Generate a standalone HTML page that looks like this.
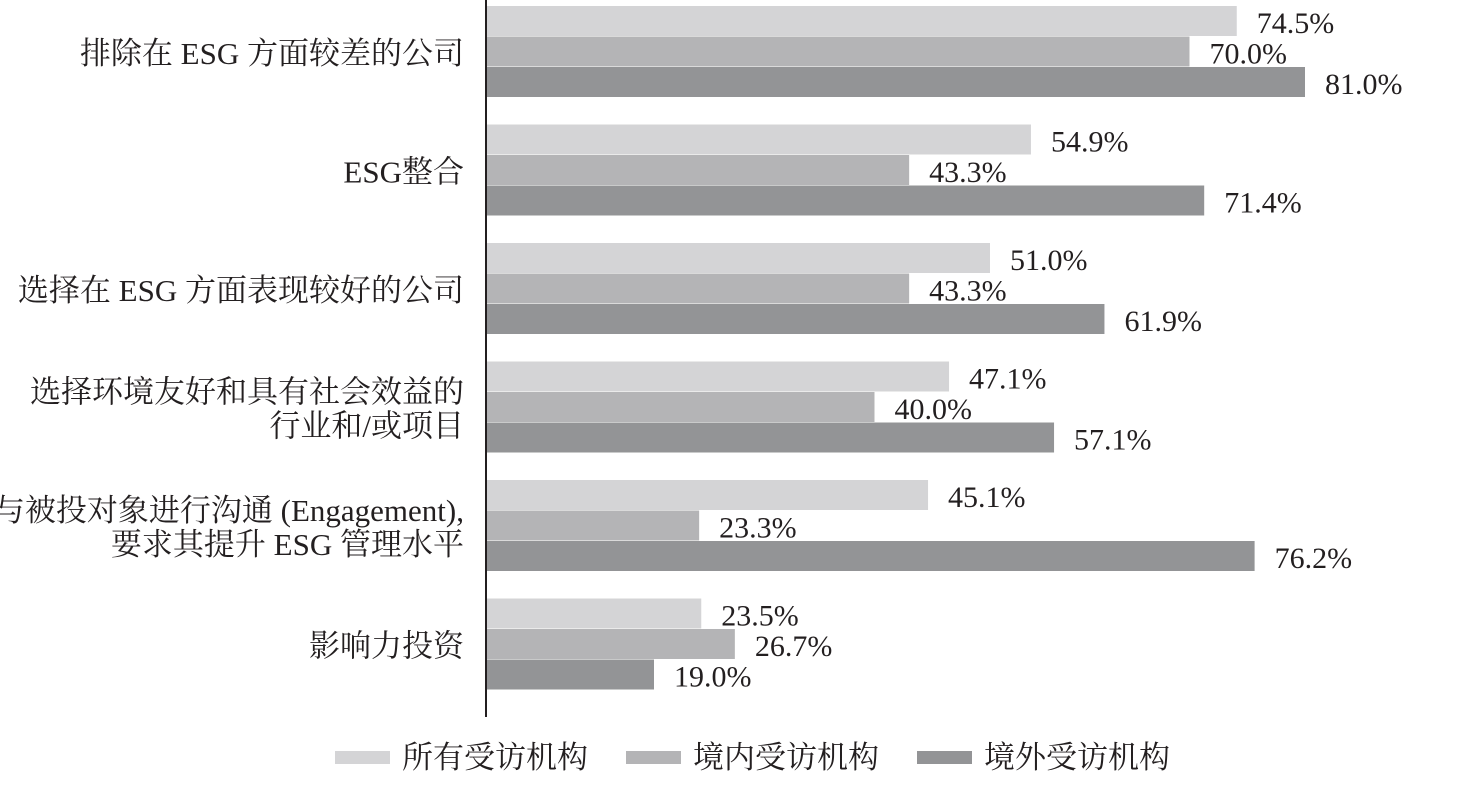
<!DOCTYPE html>
<html><head><meta charset="utf-8"><style>
html,body{margin:0;padding:0;background:#fff;width:1459px;height:800px;overflow:hidden}
text{font-family:"Liberation Serif","Noto Serif CJK SC",serif;fill:#231f20}
</style></head><body>
<svg id="chart" width="1459" height="800" xmlns="http://www.w3.org/2000/svg"></svg>
<script>
const categories=[["排除在 ESG 方面较差的公司"],["ESG整合"],["选择在 ESG 方面表现较好的公司"],["选择环境友好和具有社会效益的","行业和/或项目"],["与被投对象进行沟通 (Engagement),","要求其提升 ESG 管理水平"],["影响力投资"]];
const seriesNames=["所有受访机构","境内受访机构","境外受访机构"];
const allValues=[74.5,54.9,51.0,47.1,45.1,23.5];
const domesticValues=[70.0,43.3,43.3,40.0,23.3,26.7];
const overseasValues=[81.0,71.4,61.9,57.1,76.2,19.0];
const colors=["#d4d4d6","#b4b4b6","#939496"];
const svg=document.getElementById('chart');
const NS="http://www.w3.org/2000/svg";
const x0=486;
function xScale(v){return x0+(v-3)*10.5;}
function groupTop(i){return 6+i*118.5;}
function mk(tag,attrs,name){const e=document.createElementNS(NS,tag);for(const k in attrs)e.setAttribute(k,attrs[k]);


svg.appendChild(e);return e;}
const series=[allValues,domesticValues,overseasValues];
categories.forEach((lines,i)=>{
  const gt=groupTop(i);
  series.forEach((vals,s)=>{
    const y=gt+s*30.5;
    const w=xScale(vals[i])-x0;
    mk('rect',{x:x0,y:y,width:w,height:30,fill:colors[s]},'bar-'+i+'-'+s);
    const t=mk('text',{x:x0+w+20,y:y+27,'font-size':30},'value-label-'+i+'-'+s);
    t.textContent=vals[i].toFixed(1)+'%';
  });
  const mid=gt+46;
  lines.forEach((ln,k)=>{
    const y=mid+12+(k-(lines.length-1)/2)*34;
    const t=mk('text',{x:464,y:y,'font-size':31,'text-anchor':'end'},'category-label-'+i);
    t.textContent=ln;
  });
});
mk('line',{x1:x0,y1:0,x2:x0,y2:717,stroke:'#231f20','stroke-width':2},'y-axis-line');
const lx=[335,626,917];
seriesNames.forEach((n,s)=>{
  mk('rect',{x:lx[s],y:751,width:55,height:13,fill:colors[s]},'legend-swatch-'+s);
  const t=mk('text',{x:lx[s]+67,y:768,'font-size':31},'legend-label-'+s);
  t.textContent=n;
});
</script>
</body></html>
